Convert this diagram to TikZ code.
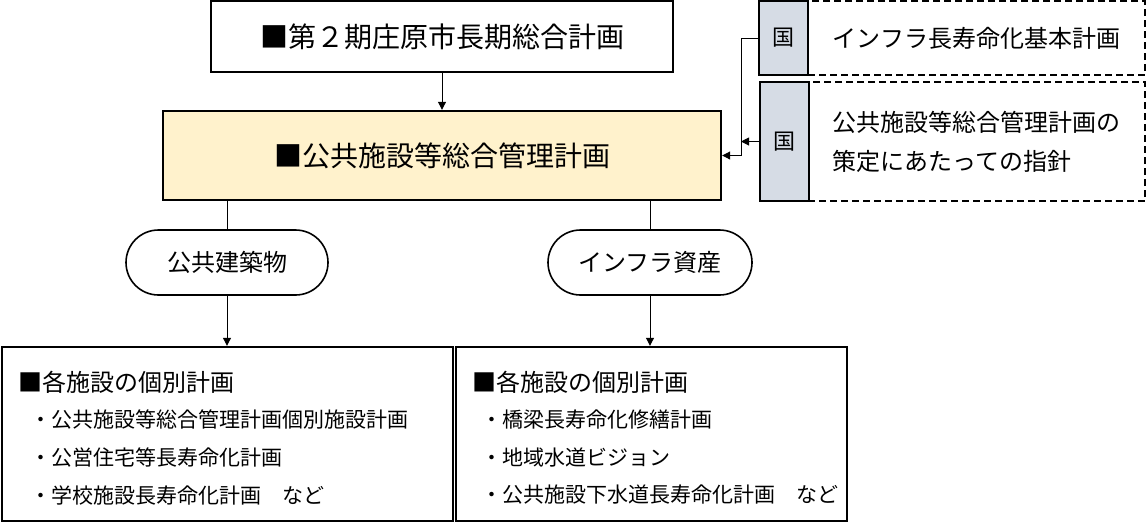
\documentclass[tikz,border=0pt]{standalone}
\usepackage{fontspec}
\newfontfamily\jpfont{Noto Sans CJK JP}
\usepackage{xcolor}
\usetikzlibrary{positioning, shapes.misc, arrows.meta, calc}
\definecolor{creamfill}{HTML}{FFF2CC}
\definecolor{kunifill}{HTML}{D6DCE5}

\begin{document}
\begin{tikzpicture}[x=1pt, y=-1pt, every node/.style={font=\jpfont, inner sep=0pt},
  planbox/.style={draw, line width=2.4pt, font=\jpfont\fontsize{28}{34}\selectfont},
  refbox/.style={draw, line width=2pt, dash pattern=on 7pt off 4pt, font=\jpfont\fontsize{24}{39}\selectfont, align=left},
  kunibox/.style={draw, line width=2.4pt, fill=kunifill, minimum width=49pt, font=\jpfont\fontsize{22}{26}\selectfont},
  pill/.style={draw, rounded rectangle, line width=1.6pt, minimum height=65pt, font=\jpfont\fontsize{24}{28}\selectfont},
  listbox/.style={draw, line width=2.4pt, minimum height=174pt},
  headtext/.style={anchor=west, font=\jpfont\fontsize{24}{28}\selectfont},
  itemtext/.style={anchor=west, font=\jpfont\fontsize{21}{25}\selectfont},
  conn/.style={line width=1pt},
  tip/.style={-{Triangle[length=8pt,width=8pt]}}]
\useasboundingbox (0,0) rectangle (1147,523);
% City plan and the overall management plan
\node[planbox, minimum width=462pt, minimum height=71pt] (plan2) at (442,36.5) {■第２期庄原市長期総合計画};
\node[planbox, fill=creamfill, minimum width=558pt, minimum height=89pt] (mgmt) at (442,155.5) {■公共施設等総合管理計画};
% National plans (dashed boxes with the 国 tags)
\node[refbox, minimum width=337pt, minimum height=74pt] (ref1) at (976.5,38) {インフラ長寿命化基本計画};
\node[refbox, minimum width=337pt, minimum height=119pt] (ref2) at (976.5,141.5) {公共施設等総合管理計画の\\策定にあたっての指針};
\node[kunibox, minimum height=74pt] (kuni1) at (783.5,38) {国};
\node[kunibox, minimum height=119pt] (kuni2) at (784.5,141.5) {国};
% Asset groups
\node[pill, minimum width=202pt] (bldg) at (227,262.5) {公共建築物};
\node[pill, minimum width=204pt] (infra) at (650,262.5) {インフラ資産};
% Individual plans
\node[listbox, minimum width=451pt] (list1) at (227.5,434) {};
\node[listbox, minimum width=391pt] (list2) at (651.5,434) {};
\node[headtext] (head1) at (18,382) {■各施設の個別計画};
\node[itemtext] (item11) at (30,420) {・公共施設等総合管理計画個別施設計画};
\node[itemtext] (item12) at (30,458) {・公営住宅等長寿命化計画};
\node[itemtext] (item13) at (30,495) {・学校施設長寿命化計画　など};
\node[headtext] (head2) at (472,382) {■各施設の個別計画};
\node[itemtext] (item21) at (481,420) {・橋梁長寿命化修繕計画};
\node[itemtext] (item22) at (481,458) {・地域水道ビジョン};
\node[itemtext] (item23) at (481,495) {・公共施設下水道長寿命化計画　など};
% Connectors
\coordinate (jct) at (741,155.5);
\draw[conn, tip] (plan2.south) -- (mgmt.north);
\draw[conn, tip] (kuni1.west) -| (jct) -- (mgmt.east);
\draw[conn, tip] (kuni2.west) -- (kuni2.west -| jct);
\draw[conn] (mgmt.south -| bldg) -- (bldg.north);
\draw[conn] (mgmt.south -| infra) -- (infra.north);
\draw[conn, tip] (bldg.south) -- (bldg.south |- list1.north);
\draw[conn, tip] (infra.south) -- (infra.south |- list2.north);
\end{tikzpicture}
\end{document}
